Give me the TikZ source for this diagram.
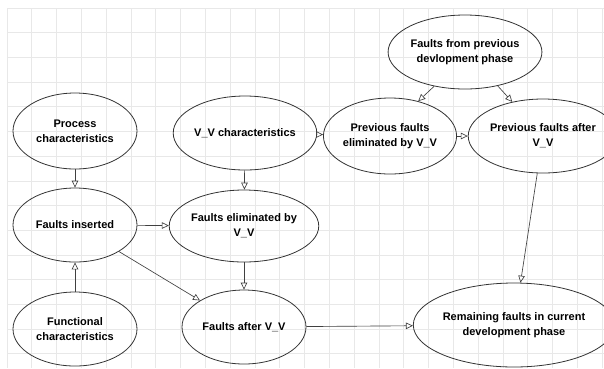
\documentclass[tikz,border=0pt]{standalone}
\usepackage{fontspec}
\setmainfont{Liberation Sans}
\usetikzlibrary{shapes.geometric}
\usetikzlibrary{arrows.meta}

\begin{document}
\begin{tikzpicture}[x=1pt, y=-1pt,
  blob/.style={draw=black!80, line width=0.8pt, ellipse, inner sep=0pt, align=center,
    font=\fontsize{11}{15}\selectfont\bfseries},
  link/.style={draw=black!75, line width=0.65pt,
    -{Triangle[open, length=7pt, width=6.5pt]}}]
\useasboundingbox (0,0) rectangle (604,368);
\fill[white] (0,0) rectangle (604,368);
\foreach \i in {0,...,24}
  \draw[black!9, line width=0.8pt] ({7+24.8*\i},8) -- ({7+24.8*\i},368);
\foreach \j in {0,...,14}
  \draw[black!9, line width=0.8pt] (7,{8+24.7*\j}) -- (604,{8+24.7*\j});
\node[blob, minimum width=124pt, minimum height=76pt] (proc) at (75,131) {Process\\characteristics};
\node[blob, minimum width=122pt, minimum height=74pt] (vvchar) at (245,133) {V\_V characteristics};
\node[blob, minimum width=134pt, minimum height=74pt] (prevph) at (465,52) {Faults from previous\\ devlopment phase};
\node[blob, minimum width=122pt, minimum height=76pt] (prevelim) at (390,136) {Previous faults\\eliminated by V\_V};
\node[blob, minimum width=122pt, minimum height=74pt] (prevafter) at (543,136) {Previous faults after\\V\_V};
\node[blob, minimum width=124pt, minimum height=74pt] (inserted) at (75,225) {Faults inserted};
\node[blob, minimum width=124pt, minimum height=72pt] (elim) at (244,226) {Faults eliminated by\\V\_V};
\node[blob, minimum width=124pt, minimum height=74pt] (func) at (75,329) {Functional\\characteristics};
\node[blob, minimum width=124pt, minimum height=74pt] (after) at (244,327) {Faults after V\_V};
\node[blob, minimum width=180pt, minimum height=84pt] (remain) at (514,325) {Remaining faults in current\\ development phase};
\draw[link] (proc) -- (inserted);
\draw[link] (func) -- (inserted);
\draw[link] (inserted) -- (elim);
\draw[link] (inserted) -- (after);
\draw[link] (vvchar) -- (elim);
\draw[link] (vvchar) -- (prevelim);
\draw[link] (elim) -- (after);
\draw[link] (prevph.228) -- (prevelim.51);
\draw[link] (prevph.314) -- (prevafter.132);
\draw[link] (prevelim) -- (prevafter);
\draw[link] (prevafter) -- (remain);
\draw[link] (after) -- (remain);
\end{tikzpicture}
\end{document}
